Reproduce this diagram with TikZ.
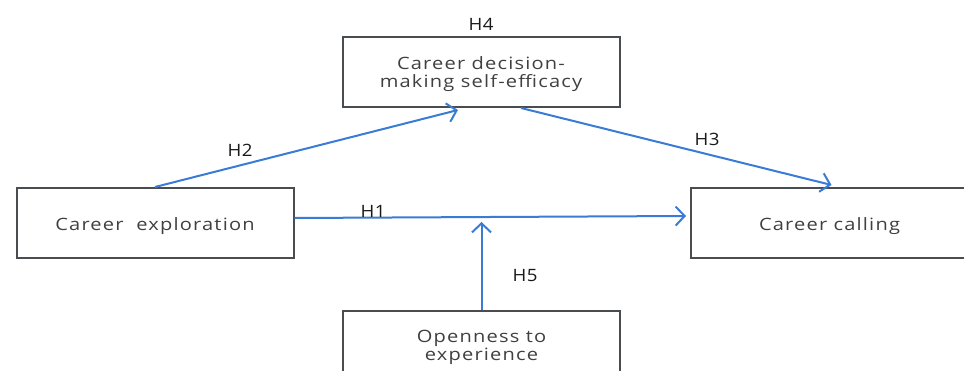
\documentclass[tikz,border=0pt]{standalone}
\usepackage{fontspec}
\setmainfont{Open Sans}
\newfontfamily\boxfont[FakeStretch=1.18,LetterSpace=7]{Open Sans}
\newfontfamily\hypfont[FakeStretch=1.1,LetterSpace=3]{Open Sans}
\usetikzlibrary{arrows.meta,calc}
\definecolor{boxline}{HTML}{4A4D50}
\definecolor{boxtext}{HTML}{404040}
\definecolor{arrowblue}{HTML}{3A7BD5}
\tikzset{
  box/.style={draw=boxline, line width=2pt, minimum width=277pt, minimum height=70pt, inner sep=0pt},
  boxlabel/.style={inner sep=0pt, align=center, text=boxtext, font=\boxfont\fontsize{17}{18}\selectfont},
  link/.style={draw=arrowblue, line width=2pt, -{Straight Barb[length=9pt,width=19pt,line width=2pt]}},
  hyp/.style={text=black!90, font=\hypfont\fontsize{17}{20}\selectfont, inner sep=0pt}
}
\begin{document}
\begin{tikzpicture}[x=1pt,y=-1pt]
\path[use as bounding box, clip] (0,0) rectangle (964,371);
\fill[white] (0,0) rectangle (964,371);
% boxes
\node[box] (dec) at (481,72) {};
\node[box] (exp) at (155,223) {};
\node[box] (call) at (829.5,223) {};
\node[box] (open) at (481.5,346) {};
% box texts
\node[boxlabel] (dect) at ($(dec)+(0,2.5)$) {Career decision-\\making self-efficacy};
\node[boxlabel] (expt) at ($(exp)+(0,3.5)$) {Career\ \ exploration};
\node[boxlabel] (callt) at ($(call)+(0,3)$) {Career calling};
\node[boxlabel] (opent) at ($(open)+(0,1)$) {Openness to\\experience};
% connectors
\draw[link] (exp.north) -- ($(dec.south)+(-23,2)$);
\draw[link] ($(dec.south)+(40,0)$) -- ($(call.north)+(2,-2)$);
\draw[link] ($(exp.east)+(0,-5)$) -- ($(call.west)+(-4,-7)$);
\coordinate (h5end) at ($(open.north)+(0,-88)$);
\draw[link] (open.north) -- (h5end);
% labels
\node[hyp] (h4) at (481,24) {H4};
\node[hyp] (h2) at (240,150) {H2};
\node[hyp] (h3) at (707,139) {H3};
\node[hyp] (h1) at (373,211) {H1};
\node[hyp] (h5) at (525,276) {H5};
\end{tikzpicture}
\end{document}
